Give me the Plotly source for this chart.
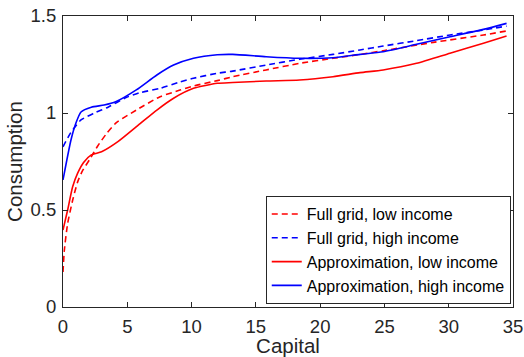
import plotly.graph_objects as go

# Full grid, low income
fg_low_x = [0, 0.1, 0.36, 0.75, 1.14, 1.5, 2.07, 2.7, 3.4, 4.15, 5.7, 7.55, 9.1, 10.15, 12, 13.2, 15.8, 18.4, 21, 23.1, 25, 28.8, 32.7, 34.5]
fg_low_y = [0.18, 0.29, 0.43, 0.55, 0.645, 0.70, 0.76, 0.83, 0.895, 0.95, 1.015, 1.084, 1.118, 1.139, 1.167, 1.187, 1.222, 1.256, 1.282, 1.302, 1.322, 1.364, 1.402, 1.423]

# Full grid, high income
fg_high_x = [0, 0.62, 1.4, 2.45, 3.5, 4.95, 6.0, 7.55, 9.1, 10.15, 12, 13.2, 15.8, 18.4, 21, 23.1, 24.9, 27.5, 30.1, 32.7, 34.5]
fg_high_y = [0.826, 0.90, 0.964, 1.0, 1.03, 1.081, 1.105, 1.127, 1.16, 1.179, 1.205, 1.216, 1.247, 1.277, 1.302, 1.325, 1.345, 1.373, 1.402, 1.428, 1.448]

# Approximation, low income
ap_low_x = [0, 0.36, 0.75, 1.14, 1.6, 2.2, 3.0, 4.27, 6.0, 7.3, 8.6, 10.15, 12, 13.2, 15.8, 18.4, 21, 23.1, 24.9, 27.5, 30.1, 32.7, 34.5]
ap_low_y = [0.397, 0.50, 0.62, 0.69, 0.745, 0.784, 0.80, 0.852, 0.945, 1.015, 1.076, 1.127, 1.153, 1.157, 1.165, 1.17, 1.187, 1.208, 1.222, 1.256, 1.308, 1.36, 1.397]

# Approximation, high income
ap_high_x = [0, 0.62, 1.0, 1.4, 2.2, 3.2, 4.1, 5.7, 7.3, 8.6, 10.15, 12, 13.2, 15.8, 18.4, 21, 23.1, 24.9, 27.5, 30.1, 32.7, 34.5]
ap_high_y = [0.655, 0.861, 0.947, 1.005, 1.03, 1.041, 1.058, 1.119, 1.196, 1.247, 1.282, 1.30, 1.302, 1.29, 1.282, 1.285, 1.302, 1.316, 1.354, 1.393, 1.431, 1.462]

x_ticks = [0, 5, 10, 15, 20, 25, 30, 35]
y_ticks = [0, 0.5, 1, 1.5]
y_tick_labels = ["0", "0.5", "1", "1.5"]

FONT = "Liberation Sans, Arial, sans-serif"
AX = "#262626"

fig = go.Figure()
series = [
    ("Full grid, low income", fg_low_x, fg_low_y, "#ff0000", "6px,4px"),
    ("Full grid, high income", fg_high_x, fg_high_y, "#0000ff", "6px,4px"),
    ("Approximation, low income", ap_low_x, ap_low_y, "#ff0000", "solid"),
    ("Approximation, high income", ap_high_x, ap_high_y, "#0000ff", "solid"),
]
for name, xs, ys, col, dash in series:
    fig.add_trace(go.Scatter(
        x=xs, y=ys, mode="lines", name=name,
        line=dict(color=col, width=1.6, dash=dash, shape="spline", smoothing=0.6),
    ))

axis_common = dict(
    showline=True, linecolor=AX, linewidth=1, mirror="ticks",
    ticks="inside", ticklen=5, tickcolor=AX, tickwidth=1,
    showgrid=False, zeroline=False, automargin=False,
    tickfont=dict(family=FONT, size=18.5, color=AX),
)

fig.update_layout(
    width=524, height=357,
    margin=dict(l=63, r=11, t=16, b=50),
    paper_bgcolor="white", plot_bgcolor="white",
    font=dict(family=FONT, color=AX),
    showlegend=True,
    legend=dict(
        x=0.995, y=0.01, xanchor="right", yanchor="bottom",
        bgcolor="white", bordercolor=AX, borderwidth=1,
        font=dict(family=FONT, size=16, color="#000000"),
        tracegroupgap=0, itemwidth=30,
    ),
)
fig.update_xaxes(range=[0, 35], tickvals=x_ticks, ticktext=[str(v) for v in x_ticks],
                 ticklabelstandoff=3,
                 title=dict(text="Capital", font=dict(family=FONT, size=20.5, color=AX), standoff=2),
                 **axis_common)
fig.update_yaxes(range=[0, 1.5], tickvals=y_ticks, ticktext=y_tick_labels,
                 ticklabelstandoff=2,
                 title=dict(text="Consumption", font=dict(family=FONT, size=20.5, color=AX), standoff=2),
                 **axis_common)

fig.write_html("out.html")
